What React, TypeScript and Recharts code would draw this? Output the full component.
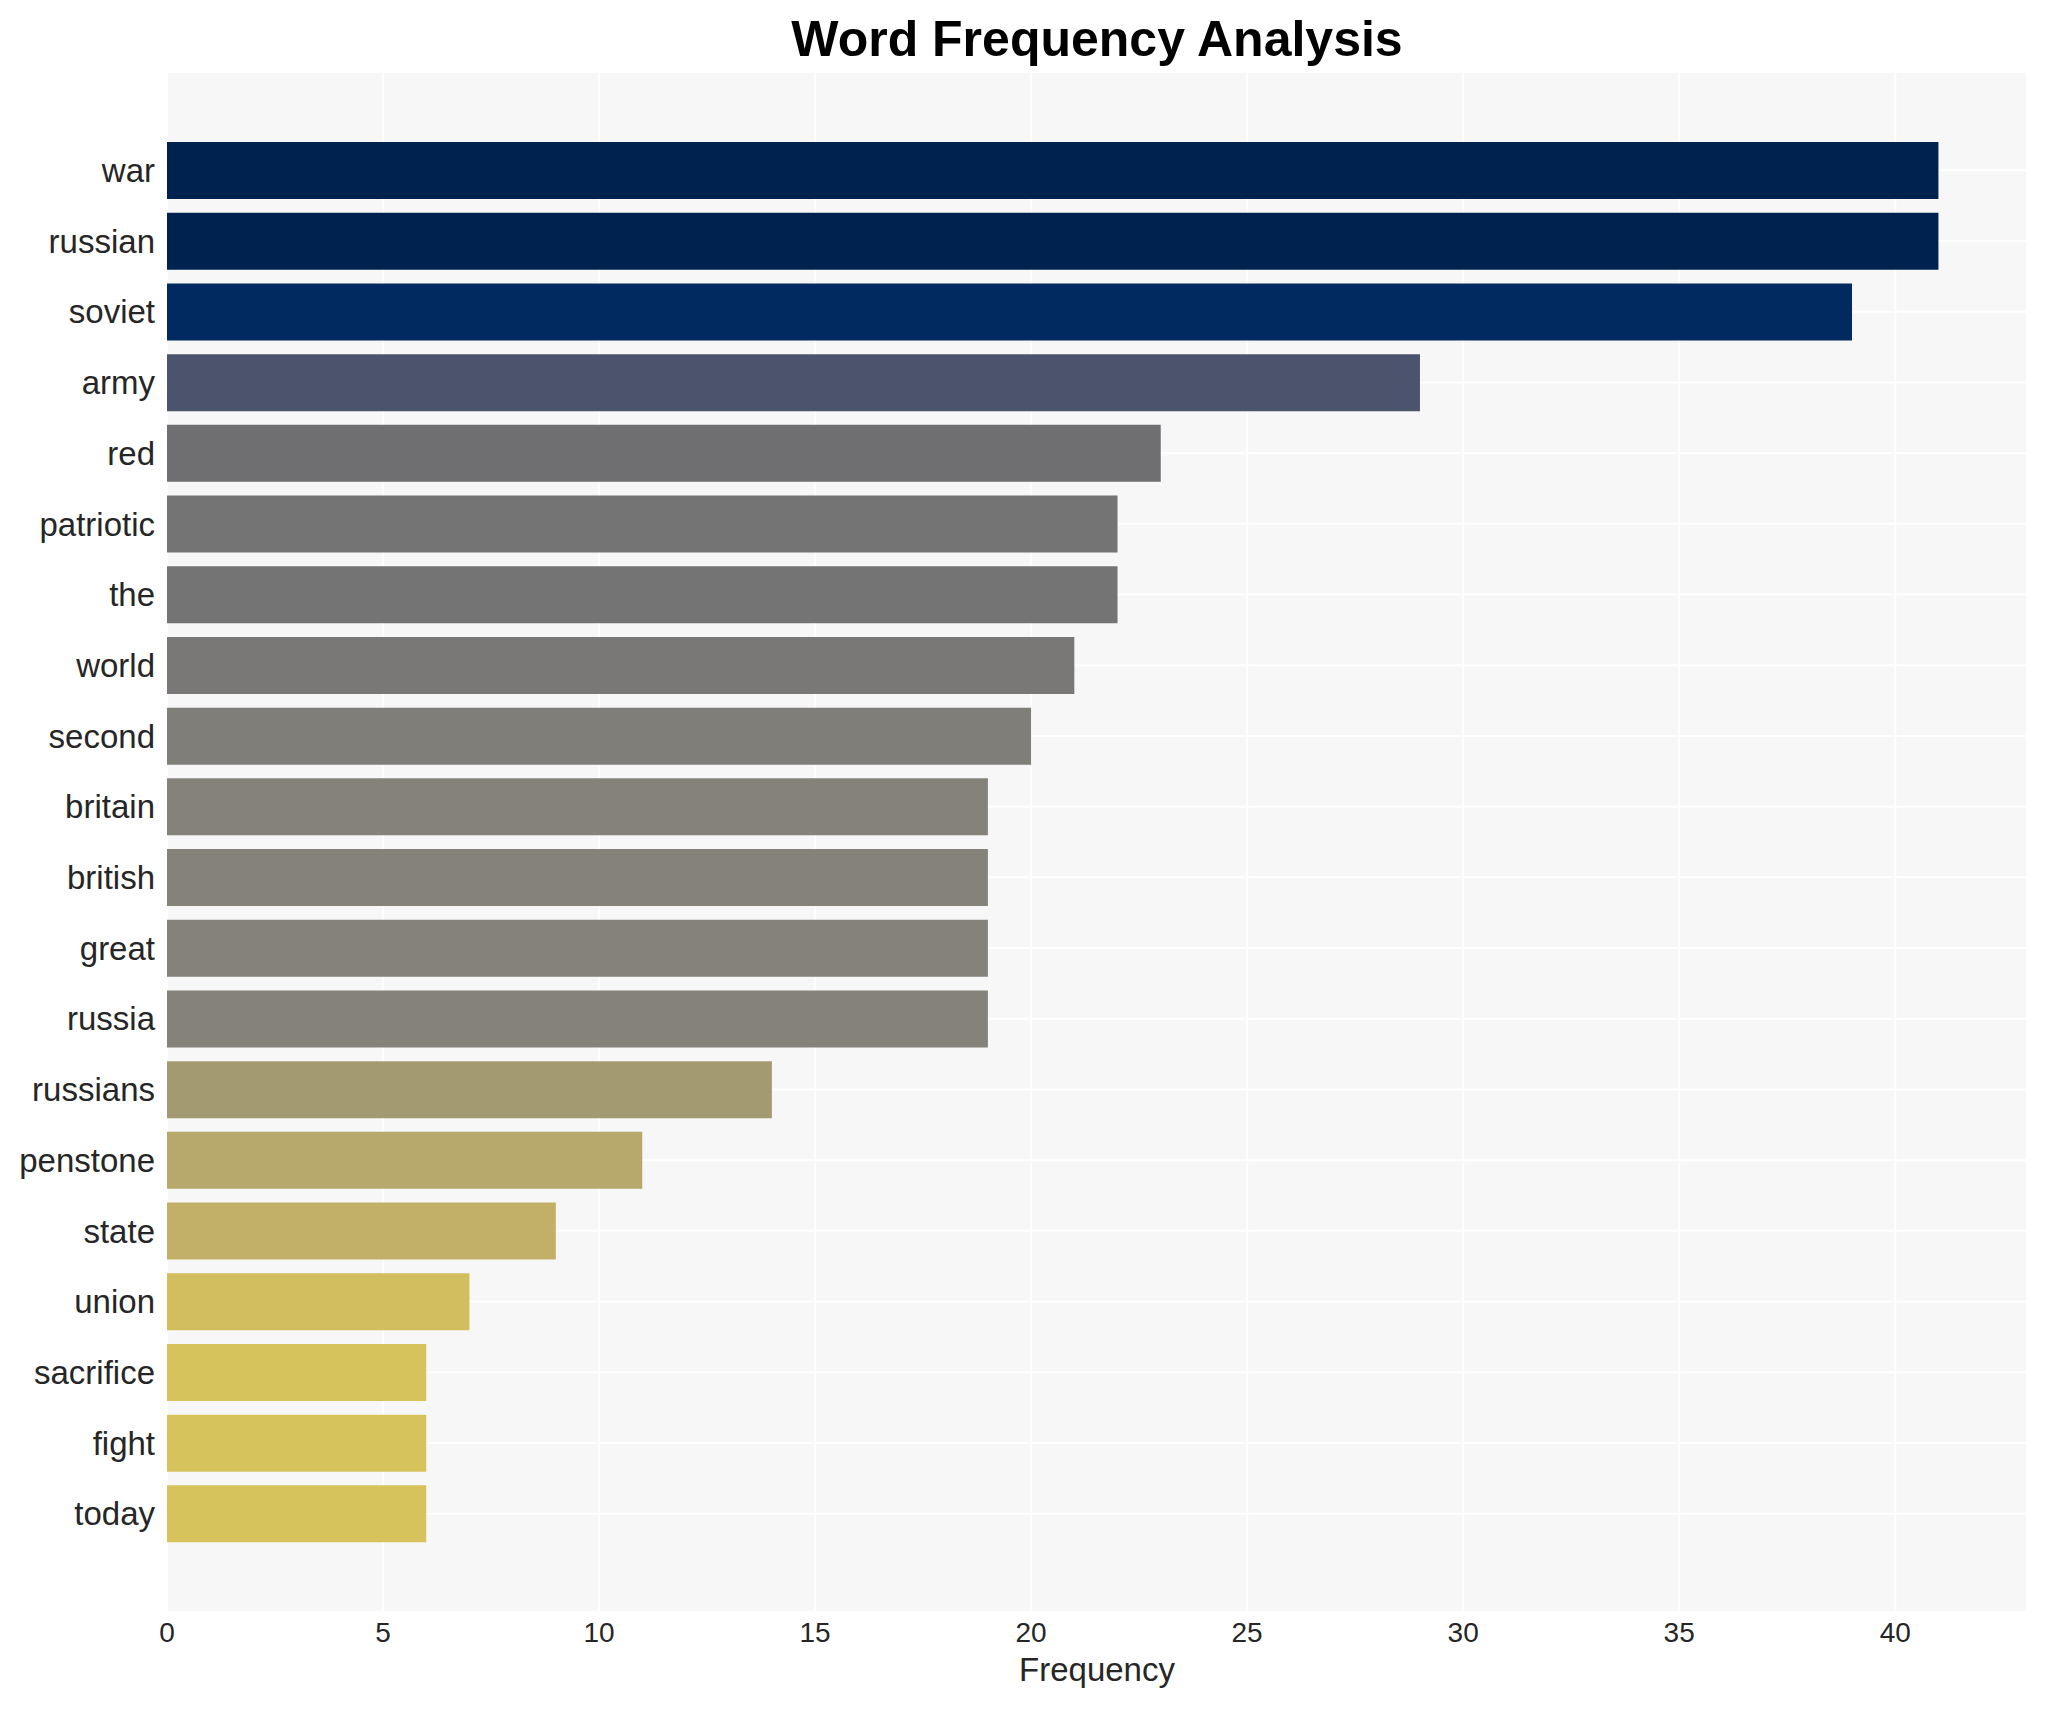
import React from "react"
import { BarChart, Bar, XAxis, YAxis, CartesianGrid, Cell, Label } from "recharts"

// word frequencies
const words = [
  "war", "russian", "soviet", "army", "red", "patriotic", "the", "world", "second", "britain",
  "british", "great", "russia", "russians", "penstone", "state", "union", "sacrifice", "fight", "today",
]
const counts = [41, 41, 39, 29, 23, 22, 22, 21, 20, 19, 19, 19, 19, 14, 11, 9, 7, 6, 6, 6]
const barColors = [
  "#00224e", "#00224e", "#002a60", "#4b546c", "#6f6f72", "#747474", "#747474", "#797876", "#807e78", "#85827a",
  "#85827a", "#85827a", "#85827a", "#a39a71", "#b7a86c", "#c3b068", "#d2bd5f", "#d7c35c", "#d7c35c", "#d7c35c",
]
const xTicks = [0, 5, 10, 15, 20, 25, 30, 35, 40]

const FONT = '"Liberation Sans", Arial, Helvetica, sans-serif'

export default function App() {
  const data = words.map((word, i) => ({ word, count: counts[i], fill: barColors[i] }))

  return (
    <div style={{ position: "absolute", left: 0, top: 0, width: 2047, height: 1710, background: "#fff", fontFamily: FONT }}>
      {/* title */}
      <div
        style={{
          position: "absolute",
          left: 167,
          width: 1860,
          top: 10,
          textAlign: "center",
          fontSize: 50,
          fontWeight: "bold",
          color: "#000",
          lineHeight: "58px",
        }}
      >
        Word Frequency Analysis
      </div>
      <BarChart
        width={2047}
        height={1710}
        data={data}
        layout="vertical"
        margin={{ top: 72, right: 20, bottom: 0, left: 0 }}
        barCategoryGap="10%"
      >
        <CartesianGrid fill="#f7f7f7" stroke="#ffffff" strokeWidth={2} />
        <XAxis
          type="number"
          dataKey="count"
          domain={[0, 43.05]}
          ticks={xTicks}
          allowDataOverflow
          axisLine={false}
          tickLine={false}
          tickSize={10}
          tickMargin={0}
          height={98}
          tick={{ fontSize: 28, fill: "#262626", fontFamily: FONT }}
        >
          <Label value="Frequency" position="insideBottom" offset={29} style={{ fontSize: 33, fill: "#262626", fontFamily: FONT }} />
        </XAxis>
        <YAxis
          type="category"
          dataKey="word"
          width={167}
          axisLine={false}
          tickLine={false}
          tickSize={12}
          tickMargin={0}
          interval={0}
          padding={{ top: 63, bottom: 63 }}
          tick={{ fontSize: 33, fill: "#262626", fontFamily: FONT }}
        />
        <Bar dataKey="count" isAnimationActive={false}>
          {data.map((d, i) => (
            <Cell key={`cell-${i}`} fill={d.fill} />
          ))}
        </Bar>
      </BarChart>
    </div>
  )
}
